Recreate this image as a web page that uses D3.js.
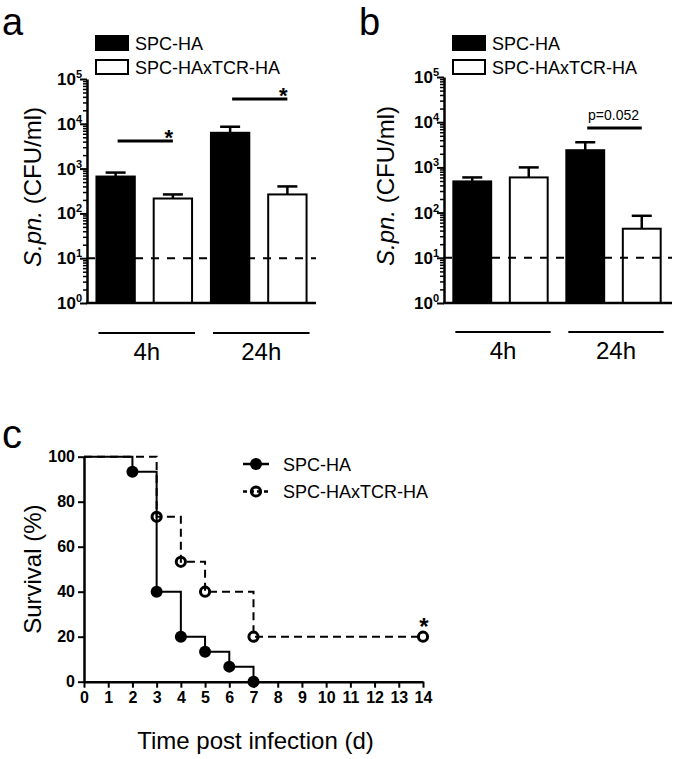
<!DOCTYPE html>
<html><head><meta charset="utf-8">
<script src="https://cdn.jsdelivr.net/npm/d3@7"></script>
<style>
html,body{margin:0;padding:0;background:#fff;}
svg{display:block;font-family:"Liberation Sans",Arial,Helvetica,sans-serif;}
</style></head>
<body>
<svg id="chart" width="675" height="759"></svg>
<script>
// ---------- DATA ----------
const groups = ["4h", "24h"];
const seriesNames = ["SPC-HA", "SPC-HAxTCR-HA"];
// panel a (CFU/ml)
const aSPC = [665, 6300];
const aSPCerr = [815, 8600];
const aTCR = [215, 265];
const aTCRerr = [265, 400];
const aSig = ["*", "*"];
// panel b (CFU/ml)
const bSPC = [490, 2400];
const bSPCerr = [600, 3600];
const bTCR = [600, 44];
const bTCRerr = [1000, 85];
const bSig = [null, "p=0.052"];
const detectionLimit = 10;
const logTicks = [1, 10, 100, 1000, 10000, 100000];
const logTickExp = ["0", "1", "2", "3", "4", "5"];
// panel c survival (%)
const spcDays = [0, 2, 3, 4, 5, 6, 7];
const spcSurv = [100, 93.3, 40, 20, 13.3, 6.7, 0];
const tcrDays = [0, 3, 4, 5, 7, 14];
const tcrSurv = [100, 73.3, 53.3, 40, 20, 20];
const survTicks = [0, 20, 40, 60, 80, 100];
const dayTicks = d3.range(0, 15);

const svg = d3.select("#chart");
svg.append("rect").attr("width", 675).attr("height", 759).attr("fill", "#fff");

function barPanel(cfg) {
  const g = svg.append("g");
  const y = d3.scaleLog().domain([1, 1e5]).range([cfg.yBottom, cfg.yTop]);
  const keys = [];
  groups.forEach(gr => seriesNames.forEach(s => keys.push(gr + "|" + s)));
  const x = d3.scaleBand().domain(keys).range([cfg.x0, cfg.x1]).paddingInner(0.33).paddingOuter(0.165);
  const bars = [];
  groups.forEach((gr, i) => {
    bars.push({k: gr + "|" + seriesNames[0], v: cfg.spc[i], e: cfg.spcErr[i], fill: "#000"});
    bars.push({k: gr + "|" + seriesNames[1], v: cfg.tcr[i], e: cfg.tcrErr[i], fill: "#fff"});
  });
  // bars
  g.selectAll("rect.bar").data(bars).join("rect")
    .attr("x", d => x(d.k)).attr("width", x.bandwidth())
    .attr("y", d => y(d.v)).attr("height", d => y(1) - y(d.v))
    .attr("fill", d => d.fill).attr("stroke", "#000").attr("stroke-width", 2);
  // error bars (upper)
  bars.forEach(d => {
    const cx = x(d.k) + x.bandwidth() / 2;
    g.append("line").attr("x1", cx).attr("x2", cx).attr("y1", y(d.v)).attr("y2", y(d.e))
      .attr("stroke", "#000").attr("stroke-width", 2.5);
    g.append("line").attr("x1", cx - 10).attr("x2", cx + 10).attr("y1", y(d.e)).attr("y2", y(d.e))
      .attr("stroke", "#000").attr("stroke-width", 2.5);
  });
  // detection limit
  g.append("line").attr("x1", cfg.x0).attr("x2", cfg.xEnd).attr("y1", y(detectionLimit)).attr("y2", y(detectionLimit))
    .attr("stroke", "#000").attr("stroke-width", 2).attr("stroke-dasharray", "8,8");
  // axes
  const minor = [];
  for (let e = 0; e < 5; e++) for (let m = 2; m <= 9; m++) minor.push(m * Math.pow(10, e));
  const axMinor = g.append("g").attr("transform", `translate(${cfg.x0},0)`)
    .call(d3.axisLeft(y).tickValues(minor).tickSize(4).tickFormat(""));
  axMinor.select(".domain").remove();
  axMinor.selectAll("line").attr("stroke-width", 1.5);
  const ax = g.append("g").attr("transform", `translate(${cfg.x0},0)`)
    .call(d3.axisLeft(y).tickValues(logTicks).tickSize(7).tickSizeOuter(0).tickFormat(""));
  ax.select(".domain").attr("stroke-width", 2.5);
  ax.selectAll("line").attr("stroke-width", 2);
  logTicks.forEach((t, i) => {
    const tx = g.append("text").attr("x", cfg.x0 - 5).attr("y", y(t) + 6)
      .attr("text-anchor", "end").attr("font-weight", "bold").attr("font-size", 17);
    tx.append("tspan").text("10");
    tx.append("tspan").attr("font-size", 11).attr("dy", -7).text(logTickExp[i]);
  });
  g.append("line").attr("x1", cfg.x0 - 1).attr("x2", cfg.xEnd).attr("y1", y(1)).attr("y2", y(1))
    .attr("stroke", "#000").attr("stroke-width", 2.5);
  // group lines and labels
  groups.forEach(gr => {
    const xa = x(gr + "|" + seriesNames[0]) + 2;
    const xb = x(gr + "|" + seriesNames[1]) + x.bandwidth() + 3;
    g.append("line").attr("x1", xa).attr("x2", xb).attr("y1", cfg.groupLineY).attr("y2", cfg.groupLineY)
      .attr("stroke", "#000").attr("stroke-width", 2);
    g.append("text").attr("x", (xa + xb) / 2).attr("y", cfg.groupLineY + 27).attr("text-anchor", "middle")
      .attr("font-size", 24).text(gr);
  });
  // significance
  groups.forEach((gr, i) => {
    const s = cfg.sig[i];
    if (!s) return;
    const xa = x(gr + "|" + seriesNames[0]) + x.bandwidth() / 2;
    const xb = x(gr + "|" + seriesNames[1]) + x.bandwidth() / 2;
    const ly = cfg.sigY[i];
    g.append("line").attr("x1", xa + 2).attr("x2", xb).attr("y1", ly).attr("y2", ly)
      .attr("stroke", "#000").attr("stroke-width", 3);
    if (s === "*") {
      g.append("text").attr("x", xb - 4).attr("y", ly + 3.5).attr("text-anchor", "middle")
        .attr("font-size", 22).attr("font-weight", "bold").text(s);
    } else {
      g.append("text").attr("x", (xa + xb) / 2).attr("y", ly - 8).attr("text-anchor", "middle")
        .attr("font-size", 14).text(s);
    }
  });
  // y title
  const yt = g.append("text").attr("transform", `translate(${cfg.titleX},${(cfg.yTop + cfg.yBottom) / 2 - 4}) rotate(-90)`)
    .attr("text-anchor", "middle").attr("font-size", 24);
  yt.append("tspan").attr("font-style", "italic").text("S.pn.");
  yt.append("tspan").text(" (CFU/ml)");
  // legend
  seriesNames.forEach((s, i) => {
    const ly = 36 + i * 24;
    g.append("rect").attr("x", cfg.legX).attr("y", ly).attr("width", 32).attr("height", 14)
      .attr("fill", i === 0 ? "#000" : "#fff").attr("stroke", "#000").attr("stroke-width", 2);
    g.append("text").attr("x", cfg.legX + 39).attr("y", ly + 13.5).attr("font-size", 18).text(s);
  });
  // panel letter
  g.append("text").attr("x", cfg.letterX).attr("y", 35).attr("font-size", 38).text(cfg.letter);
}

barPanel({letter: "a", letterX: 2, x0: 87, x1: 316, xEnd: 316, yTop: 79, yBottom: 303,
  spc: aSPC, spcErr: aSPCerr, tcr: aTCR, tcrErr: aTCRerr, sig: aSig, sigY: [141, 99],
  groupLineY: 333, titleX: 41, legX: 96});
barPanel({letter: "b", letterX: 359, x0: 444, x1: 670, xEnd: 672, yTop: 77, yBottom: 303,
  spc: bSPC, spcErr: bSPCerr, tcr: bTCR, tcrErr: bTCRerr, sig: bSig, sigY: [null, 128],
  groupLineY: 332, titleX: 394, legX: 453});

// ---------- panel c ----------
(function () {
  const g = svg.append("g");
  const x = d3.scaleLinear().domain([0, 14]).range([84, 423]);
  const y = d3.scaleLinear().domain([0, 100]).range([681.7, 456.7]);
  const line = d3.line().x(d => x(d[0])).y(d => y(d[1])).curve(d3.curveStepAfter);
  const spc = spcDays.map((d, i) => [d, spcSurv[i]]);
  const tcr = tcrDays.map((d, i) => [d, tcrSurv[i]]);
  g.append("path").attr("d", line(tcr)).attr("fill", "none").attr("stroke", "#000")
    .attr("stroke-width", 2).attr("stroke-dasharray", "8,5");
  g.append("path").attr("d", line(spc)).attr("fill", "none").attr("stroke", "#000").attr("stroke-width", 2);
  // axes
  const ay = g.append("g").attr("transform", `translate(${x(0)},0)`)
    .call(d3.axisLeft(y).tickValues(survTicks).tickSize(6).tickSizeOuter(0).tickPadding(3));
  ay.select(".domain").attr("stroke-width", 2.5);
  ay.selectAll("line").attr("stroke-width", 2);
  ay.selectAll("text").attr("font-size", 16).attr("font-weight", "bold")
    .attr("font-family", "'Liberation Sans',Arial,sans-serif").attr("fill", "#000");
  const ax = g.append("g").attr("transform", `translate(0,${y(0)})`)
    .call(d3.axisBottom(x).tickValues(dayTicks).tickSize(6).tickSizeOuter(0).tickPadding(4));
  ax.select(".domain").attr("stroke-width", 2.5);
  ax.selectAll("line").attr("stroke-width", 2);
  ax.selectAll("text").attr("font-size", 16).attr("font-weight", "bold")
    .attr("font-family", "'Liberation Sans',Arial,sans-serif").attr("fill", "#000");
  // markers
  g.selectAll("circle.spc").data(spc.slice(1)).join("circle")
    .attr("cx", d => x(d[0])).attr("cy", d => y(d[1])).attr("r", 6).attr("fill", "#000");
  g.selectAll("circle.tcr").data(tcr.slice(1)).join("circle")
    .attr("cx", d => x(d[0])).attr("cy", d => y(d[1])).attr("r", 4.6)
    .attr("fill", "none").attr("stroke", "#000").attr("stroke-width", 3);
  // star
  const last = tcr[tcr.length - 1];
  g.append("text").attr("x", x(last[0]) + 1).attr("y", y(last[1]) - 2).attr("text-anchor", "middle")
    .attr("font-size", 24).attr("font-weight", "bold").text("*");
  // titles
  g.append("text").attr("transform", `translate(41,${(y(0) + y(100)) / 2}) rotate(-90)`)
    .attr("text-anchor", "middle").attr("font-size", 24).text("Survival (%)");
  g.append("text").attr("x", (x(0) + x(14)) / 2 + 2).attr("y", 749).attr("text-anchor", "middle")
    .attr("font-size", 24).text("Time post infection (d)");
  // legend
  seriesNames.forEach((s, i) => {
    const ly = 464 + i * 27.5;
    g.append("line").attr("x1", 243).attr("x2", 269).attr("y1", ly).attr("y2", ly)
      .attr("stroke", "#000").attr("stroke-width", 2.5).attr("stroke-dasharray", i === 0 ? null : "4,3");
    if (i === 0) g.append("circle").attr("cx", 256).attr("cy", ly).attr("r", 6).attr("fill", "#000");
    else g.append("circle").attr("cx", 256).attr("cy", ly).attr("r", 4.6).attr("fill", "none")
      .attr("stroke", "#000").attr("stroke-width", 3);
    g.append("text").attr("x", 283).attr("y", ly + 6.5).attr("font-size", 18).text(s);
  });
  g.append("text").attr("x", 2).attr("y", 448).attr("font-size", 40).text("c");
})();
</script>
</body></html>
